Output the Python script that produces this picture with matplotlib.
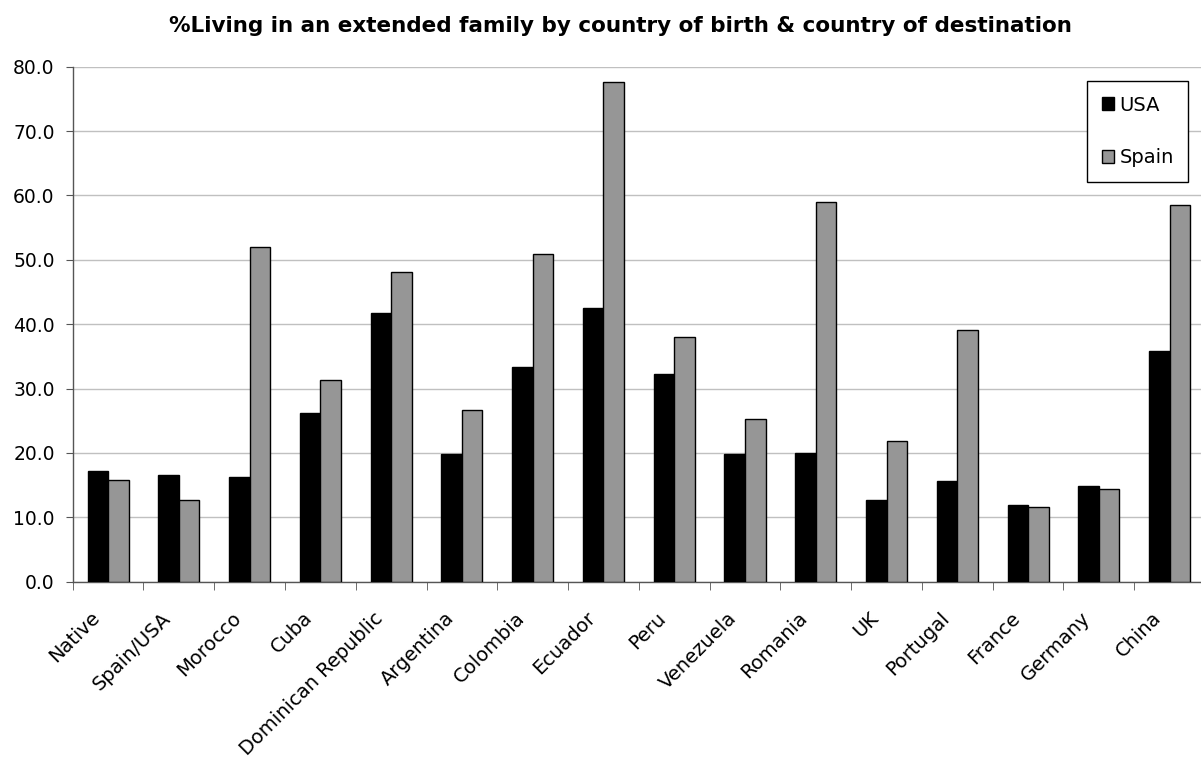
import matplotlib
matplotlib.use("Agg")
import matplotlib.pyplot as plt
import matplotlib.transforms as mtransforms
import numpy as np

plt.rcParams['font.family'] = ['DejaVu Sans']

countries = ["Native", "Spain/USA", "Morocco", "Cuba", "Dominican Republic",
             "Argentina", "Colombia", "Ecuador", "Peru", "Venezuela",
             "Romania", "UK", "Portugal", "France", "Germany", "China"]
usa = [17.2, 16.6, 16.3, 26.2, 41.7, 19.8, 33.3, 42.5, 32.2, 19.8,
       20.0, 12.7, 15.6, 11.9, 14.9, 35.8]
spain = [15.8, 12.7, 52.0, 31.4, 48.1, 26.7, 50.9, 77.6, 38.0, 25.3,
         59.0, 21.9, 39.1, 11.6, 14.4, 58.5]
yticks = [0, 10, 20, 30, 40, 50, 60, 70, 80]

W, H = 1201, 769
fig = plt.figure(figsize=(W / 100, H / 100), dpi=100)
ax = fig.add_axes([72.7 / W, (H - 581.7) / H, (1205 - 72.7) / W, (581.7 - 66.7) / H])

x = np.arange(len(countries))
bw = 0.29
ax.bar(x - bw / 2, usa, bw, color="black", edgecolor="black", linewidth=1.0,
       label="USA", zorder=3)
ax.bar(x + bw / 2, spain, bw, color="#969696", edgecolor="black", linewidth=1.0,
       label="Spain", zorder=3)

ax.set_xlim(-0.5, len(countries) - 0.5)
ax.set_ylim(0, 80)
ax.set_yticks(yticks)
ax.set_yticklabels([f"{v:.1f}" for v in yticks], fontsize=13.5)
ax.yaxis.grid(True, color="#c0c0c0", linewidth=1.0, zorder=0)
ax.set_axisbelow(True)

ax.set_xticks(x)
ax.set_xticklabels(countries, rotation=45, ha="right", va="center",
                   rotation_mode="anchor", fontsize=14)
ax.tick_params(axis="x", which="major", length=0, pad=24)
# nudge the slanted category names a little to the left
shift = mtransforms.ScaledTranslation(-8 / 72, 0, fig.dpi_scale_trans)
for lbl in ax.get_xticklabels():
    lbl.set_transform(lbl.get_transform() + shift)
ax.set_xticks(np.arange(len(countries) + 1) - 0.5, minor=True)
ax.tick_params(axis="x", which="minor", length=6, direction="out", color="#555555")
ax.tick_params(axis="y", length=5, direction="out", color="#555555", pad=8)

for side in ["top", "right"]:
    ax.spines[side].set_visible(False)
for side in ["left", "bottom"]:
    ax.spines[side].set_color("#555555")
    ax.spines[side].set_linewidth(1.0)

fig.text(620 / W, 1 - 32.5 / H,
         "%Living in an extended family by country of birth & country of destination",
         ha="center", va="baseline", fontsize=15.5, fontweight="bold")

leg = ax.legend(loc="upper left", bbox_to_anchor=(1087 / W, 1 - 81 / H),
                bbox_transform=fig.transFigure, borderaxespad=0,
                fontsize=14, frameon=True, fancybox=False, framealpha=1,
                edgecolor="black", labelspacing=1.74, handlelength=0.62,
                handleheight=0.62, handletextpad=0.3, borderpad=0.75)
leg.get_frame().set_linewidth(1.0)

fig.savefig("out.png", dpi=100)
